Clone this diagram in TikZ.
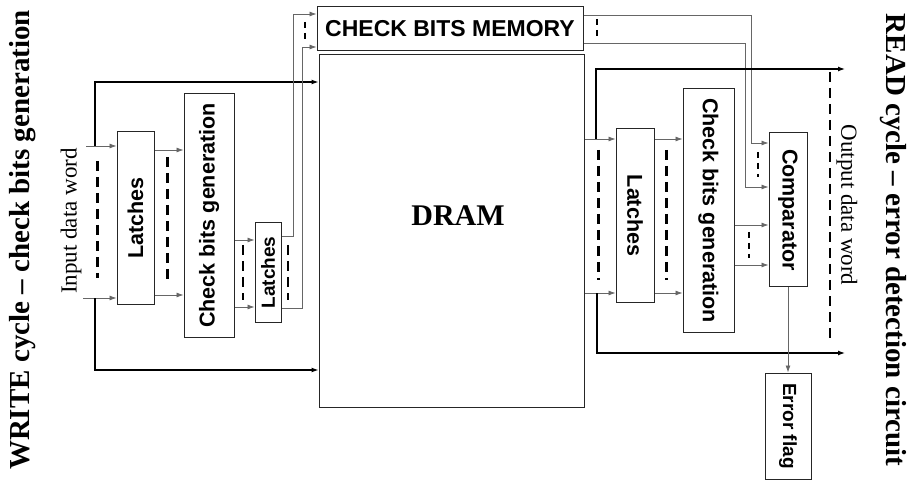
\documentclass[tikz,border=0pt]{standalone}
\usepackage{fontspec}
\setmainfont{Liberation Serif}
\setsansfont{Liberation Sans}
\usetikzlibrary{arrows.meta}
\begin{document}
\begin{tikzpicture}[x=1pt,y=-1pt,
  box/.style={draw=black!85, line width=1pt, inner sep=0pt, fill=white,
    font=\sffamily\bfseries\fontsize{21.5}{21.5}\selectfont},
  sbox/.style={box, font=\sffamily\bfseries\fontsize{19}{19}\selectfont},
  conn/.style={draw=black!60, line width=0.8pt},
  byp/.style={draw=black, line width=1.2pt},
  tip/.style={-{Latex[length=7pt,width=5pt]}},
  bus/.style={draw=black, line width=3pt, dash pattern=on 10pt off 6pt},
  obus/.style={draw=black, line width=2.2pt, dash pattern=on 10pt off 6pt},
  sbus/.style={draw=black, line width=1.6pt, dash pattern=on 6pt off 5pt},
  title/.style={font=\bfseries\fontsize{29}{29}\selectfont, inner sep=0pt},
  wlabel/.style={font=\fontsize{23}{23}\selectfont, inner sep=0pt}]
\useasboundingbox (0,0) rectangle (908,481);

% titles
\node[title, rotate=90] (wt) at (23,240) {WRITE cycle \textendash\ check bits generation};
\node[title, rotate=-90] (rt) at (893,240) {READ cycle \textendash\ error detection circuit};
\node[wlabel, rotate=90] (idw) at (71,221) {Input data word};
\node[wlabel, rotate=-90] (odw) at (847,205) {Output data word};

% boxes
\node[box, minimum width=37, minimum height=172] (latL) at (135.5,218) {\rotatebox{90}{Latches}};
\node[box, minimum width=50, minimum height=243] (cbgL) at (209,215.5) {\rotatebox{90}{Check bits generation}};
\node[sbox, minimum width=26, minimum height=99] (latS) at (268,272.5) {\rotatebox{90}{Latches}};
\node[box, minimum width=266, minimum height=44, font=\sffamily\bfseries\fontsize{23}{23}\selectfont] (cbm) at (450,29) {CHECK BITS MEMORY};
\node[box, minimum width=265, minimum height=352] (dram) at (451.5,231) {};
\node[font=\bfseries\fontsize{30}{30}\selectfont, inner sep=0pt] (dramt) at (458,216) {DRAM};
\node[box, minimum width=38, minimum height=173] (latR) at (635,215.5) {\rotatebox{-90}{Latches}};
\node[box, minimum width=51, minimum height=243] (cbgR) at (708.5,210.5) {\rotatebox{-90}{Check bits generation}};
\node[box, minimum width=38, minimum height=154] (comp) at (788,210) {\rotatebox{-90}{Comparator}};
\node[sbox, minimum width=46, minimum height=106] (err) at (788,426) {\rotatebox{-90}{Error flag}};

% ---------- write side ----------
\coordinate (i1) at (86,146);
\coordinate (i2) at (83,298);
\coordinate (j1) at (95,146);
\coordinate (j2) at (95,298);
\coordinate (t1) at (95,82);
\coordinate (t2) at (95,370);
\draw[conn,tip] (i1) -- (i1 -| latL.west);
\draw[conn,tip] (i2) -- (i2 -| latL.west);
\draw[byp,tip] (j1) -- (t1) -- (t1 -| dram.west);
\draw[byp,tip] (j2) -- (t2) -- (t2 -| dram.west);
\draw[bus] (97,161) -- (97,278);

\coordinate (ya1) at (0,150);
\coordinate (ya2) at (0,295);
\draw[conn,tip] (latL.east |- ya1) -- (cbgL.west |- ya1);
\draw[conn,tip] (latL.east |- ya2) -- (cbgL.west |- ya2);
\draw[bus] (167,157) -- (167,285);

\coordinate (yb1) at (0,240);
\coordinate (yb2) at (0,307);
\draw[conn,tip] (cbgL.east |- yb1) -- (latS.west |- yb1);
\draw[conn,tip] (cbgL.east |- yb2) -- (latS.west |- yb2);
\draw[bus, line width=2.2pt] (243,245) -- (243,300);

\coordinate (yc1) at (0,236);
\coordinate (yc2) at (0,308);
\coordinate (c1) at (293,14);
\coordinate (c2) at (302,47);
\draw[conn,tip] (latS.east |- yc1) -| (c1) -- (c1 -| cbm.west);
\draw[conn,tip] (latS.east |- yc2) -| (c2) -- (c2 -| cbm.west);
\draw[bus, line width=2.2pt] (288,245) -- (288,300);
\draw[sbus] (305,22) -- (305,40);

% ---------- read side ----------
\coordinate (m1) at (751,15);
\coordinate (m2) at (745,43);
\coordinate (yd1) at (0,143);
\coordinate (yd2) at (0,187);
\draw[conn,tip] (cbm.east |- m1) -- (m1) |- (comp.west |- yd1);
\draw[conn,tip] (cbm.east |- m2) -- (m2) |- (comp.west |- yd2);
\draw[sbus] (597,19) -- (597,38);
\draw[sbus] (758,152) -- (758,177);

\coordinate (ye1) at (0,139);
\coordinate (ye2) at (0,293);
\coordinate (k1) at (596,139);
\coordinate (k2) at (597,293);
\coordinate (u1) at (596,69);
\coordinate (u2) at (597,353);
\coordinate (o1) at (845,69);
\coordinate (o2) at (845,353);
\draw[conn,tip] (dram.east |- ye1) -- (latR.west |- ye1);
\draw[conn,tip] (dram.east |- ye2) -- (latR.west |- ye2);
\draw[byp,tip] (k1) -- (u1) -- (o1);
\draw[byp,tip] (k2) -- (u2) -- (o2);
\draw[bus] (598,150) -- (598,280);
\draw[obus] (830,72) -- (830,338);

\draw[conn,tip] (latR.east |- ye1) -- (cbgR.west |- ye1);
\draw[conn,tip] (latR.east |- ye2) -- (cbgR.west |- ye2);
\draw[bus] (666,150) -- (666,280);

\coordinate (yf1) at (0,225);
\coordinate (yf2) at (0,265);
\draw[conn,tip] (cbgR.east |- yf1) -- (comp.west |- yf1);
\draw[conn,tip] (cbgR.east |- yf2) -- (comp.west |- yf2);
\draw[sbus] (749,232) -- (749,258);

\draw[conn,tip] (comp.south) -- (err.north);
\end{tikzpicture}
\end{document}
